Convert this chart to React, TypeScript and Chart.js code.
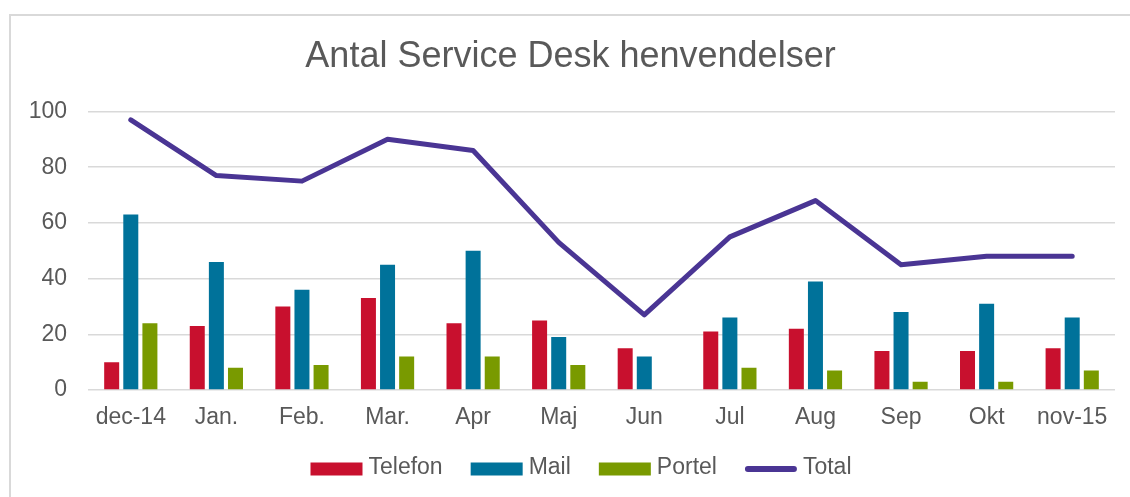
import React, { useEffect, useRef } from 'react';
import { Chart, registerables } from 'chart.js';

Chart.register(...registerables);

const categories = ['dec-14', 'Jan.', 'Feb.', 'Mar.', 'Apr', 'Maj', 'Jun', 'Jul', 'Aug', 'Sep', 'Okt', 'nov-15'];
const telefon = [10, 23, 30, 33, 24, 25, 15, 21, 22, 14, 14, 15];
const mail = [63, 46, 36, 45, 50, 19, 12, 26, 39, 28, 31, 26];
const portel = [24, 8, 9, 12, 12, 9, 0, 8, 7, 3, 3, 7];
const total = [97, 77, 75, 90, 86, 53, 27, 55, 68, 45, 48, 48];
const yTicks = [0, 20, 40, 60, 80, 100];

const TEXT = '#595959';
const FONT = '"Liberation Sans", Arial, Helvetica, sans-serif';

const legendPlugin = {
  id: 'customBottomLegend',
  afterDraw(chart: any) {
    const ctx = chart.ctx as CanvasRenderingContext2D;
    const dsets = chart.data.datasets;
    ctx.save();
    ctx.font = `23px ${FONT}`;
    ctx.textBaseline = 'middle';
    ctx.textAlign = 'left';
    const boxW = 52;
    const boxH = 13;
    const textGap = 6;
    const itemGap = 28;
    const widths = dsets.map((d: any) => boxW + textGap + ctx.measureText(d.label).width);
    const totalW = widths.reduce((a: number, b: number) => a + b, 0) + itemGap * (dsets.length - 1);
    let x = 581 - totalW / 2;
    const y = 469;
    dsets.forEach((d: any, i: number) => {
      if (d.type === 'line') {
        ctx.strokeStyle = d.borderColor;
        ctx.lineWidth = 6;
        ctx.lineCap = 'round';
        ctx.beginPath();
        ctx.moveTo(x + 3, y);
        ctx.lineTo(x + boxW - 3, y);
        ctx.stroke();
      } else {
        ctx.fillStyle = d.backgroundColor;
        ctx.fillRect(x, y - boxH / 2, boxW, boxH);
      }
      ctx.fillStyle = TEXT;
      ctx.fillText(d.label, x + boxW + textGap, y - 1);
      x += widths[i] + itemGap;
    });
    ctx.restore();
  },
};

export default function App() {
  const ref = useRef<HTMLCanvasElement | null>(null);

  useEffect(() => {
    if (!ref.current) return;
    Chart.defaults.font.family = FONT;
    const chart = new Chart(ref.current, {
      type: 'bar',
      data: {
        labels: categories,
        datasets: [
          { type: 'bar', label: 'Telefon', data: telefon, backgroundColor: '#C8102E', borderColor: '#C8102E', borderWidth: 0, categoryPercentage: 0.67, barPercentage: 0.785 },
          { type: 'bar', label: 'Mail', data: mail, backgroundColor: '#00729A', borderColor: '#00729A', borderWidth: 0, categoryPercentage: 0.67, barPercentage: 0.785 },
          { type: 'bar', label: 'Portel', data: portel, backgroundColor: '#799A00', borderColor: '#799A00', borderWidth: 0, categoryPercentage: 0.67, barPercentage: 0.785 },
          { type: 'line', label: 'Total', data: total, borderColor: '#4A3594', backgroundColor: '#4A3594', borderWidth: 5, pointRadius: 0, borderCapStyle: 'round', borderJoinStyle: 'round', tension: 0, fill: false } as any,
        ],
      },
      options: {
        responsive: false,
        animation: false,
        layout: { padding: { left: 26, right: 15, top: 0, bottom: 65.2 } },
        plugins: {
          title: {
            display: true,
            text: 'Antal Service Desk henvendelser',
            color: TEXT,
            font: { size: 36, weight: 'normal', family: FONT },
            padding: { top: 35.7, bottom: 32.6 },
          },
          legend: { display: false },
          tooltip: { enabled: false },
        },
        scales: {
          x: {
            offset: true,
            grid: { display: false, drawTicks: false },
            border: { display: false },
            ticks: { color: TEXT, font: { size: 23, family: FONT }, padding: 14.2, maxRotation: 0, autoSkip: false },
            afterFit: (s: any) => {
              s.height = 41.8;
            },
          },
          y: {
            min: 0,
            max: 100,
            grid: { color: '#d9d9d9', lineWidth: 1.5, drawTicks: false },
            border: { display: false },
            ticks: { color: TEXT, font: { size: 23, family: FONT }, padding: 21 },
            afterBuildTicks: (s: any) => {
              s.ticks = yTicks.map((v) => ({ value: v }));
            },
            afterFit: (s: any) => {
              s.width = 62;
            },
          },
        },
      } as any,
      plugins: [legendPlugin],
    });
    return () => chart.destroy();
  }, []);

  return (
    <div style={{ position: 'absolute', left: 0, top: 0, width: 1130, height: 497, overflow: 'hidden', background: '#ffffff' }}>
      <div style={{ position: 'absolute', left: 9, top: 14, width: 1300, height: 700, border: '2px solid #d9d9d9', boxSizing: 'border-box' }} />
      <canvas ref={ref} width={1130} height={497} style={{ position: 'absolute', left: 0, top: 0, width: 1130, height: 497 }} />
    </div>
  );
}
